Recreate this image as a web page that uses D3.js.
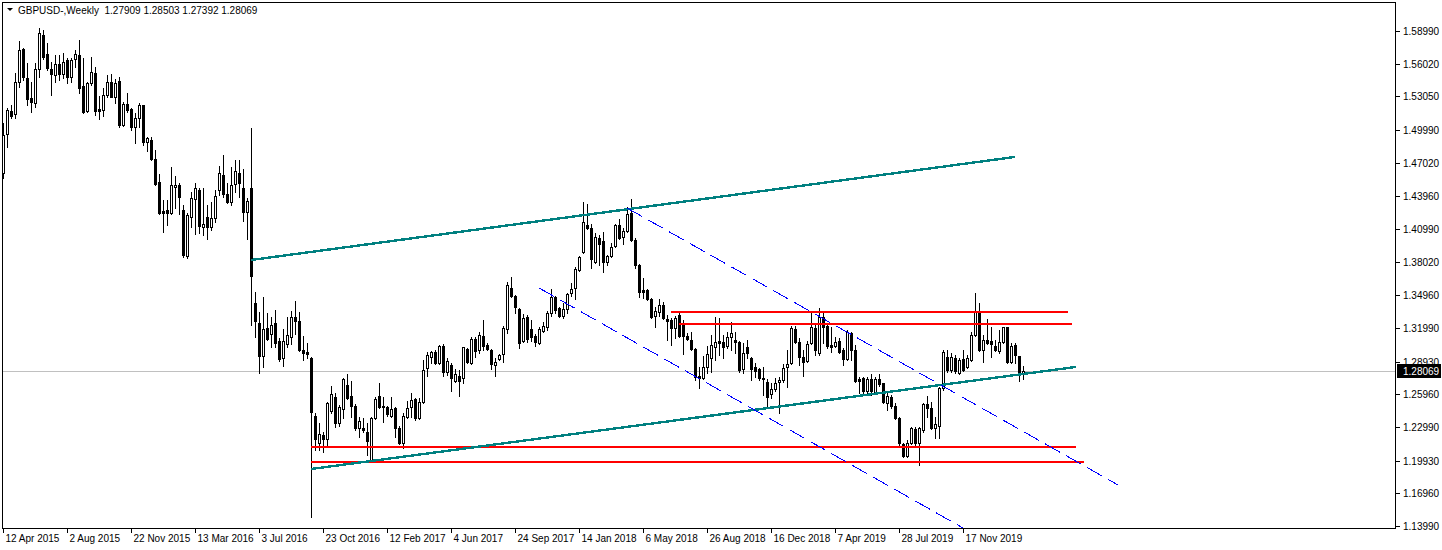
<!DOCTYPE html>
<html><head><meta charset="utf-8">
<script src="https://cdn.jsdelivr.net/npm/d3@7"></script>
<style>html,body{margin:0;padding:0;background:#fff;overflow:hidden}</style>
</head><body><svg id="c" width="1442" height="550"></svg>
<script>
// ---- data (weekly GBPUSD candles, first bar = week of 12 Apr 2015) ----
const startWeek = "2015-04-12";
const opens = [
1.4608,1.4963,1.5172,1.5145,1.5436,1.5736,1.5472,1.5290,1.5245,1.5554,
1.5863,1.5690,1.5554,1.5499,1.5599,1.5508,1.5636,1.5481,1.5645,1.5681,
1.5399,1.5172,1.5426,1.5517,1.5190,1.5181,1.5317,1.5436,1.5299,1.5445,
1.5045,1.5236,1.5190,1.5026,1.5108,1.5226,1.4890,1.4908,1.4736,1.4526,
1.4263,1.4272,1.4245,1.4481,1.4499,1.4272,1.3854,1.4208,1.4372,1.4454,
1.4117,1.4208,1.4117,1.4199,1.4454,1.4590,1.4417,1.4345,1.4508,1.4608,
1.4472,1.4254,1.4472,1.3426,1.3245,1.2945,1.3199,1.3145,1.3245,1.3081,
1.2926,1.3054,1.3117,1.3299,1.3263,1.2999,1.2981,1.2926,1.2399,1.2154,
1.2226,1.2190,1.2445,1.2572,1.2336,1.2463,1.2681,1.2581,1.2490,1.2290,
1.2290,1.2254,1.1990,1.2381,1.2581,1.2490,1.2481,1.2399,1.2472,1.2290,
1.2154,1.2390,1.2481,1.2554,1.2381,1.2526,1.2836,1.2936,1.2981,1.2881,
1.3036,1.2799,1.2863,1.2717,1.2763,1.2745,1.3008,1.2881,1.3099,1.2999,
1.3126,1.3045,1.2999,1.2863,1.2917,1.2963,1.3190,1.3563,1.3490,1.3372,
1.3081,1.3299,1.3190,1.3126,1.3063,1.3172,1.3208,1.3336,1.3481,1.3381,
1.3308,1.3372,1.3517,1.3563,1.3726,1.3890,1.4136,1.4108,1.3799,1.4017,
1.3990,1.3799,1.3854,1.3945,1.4136,1.4026,1.4081,1.4245,1.3999,1.3772,
1.3545,1.3545,1.3463,1.3308,1.3345,1.3408,1.3281,1.3272,1.3199,1.3317,
1.3226,1.3126,1.3090,1.3008,1.2763,1.2745,1.2845,1.2926,1.3026,1.3081,
1.3072,1.3036,1.3117,1.3090,1.3072,1.2826,1.3026,1.2926,1.2845,1.2826,
1.2745,1.2708,1.2599,1.2645,1.2708,1.2727,1.2845,1.2881,1.3190,1.3072,
1.2936,1.2899,1.3063,1.3199,1.2972,1.3299,1.3217,1.3045,1.3036,1.3081,
1.2999,1.2917,1.3154,1.2999,1.2736,1.2745,1.2626,1.2736,1.2608,1.2736,
1.2699,1.2517,1.2572,1.2490,1.2381,1.2145,1.2036,1.2154,1.2281,1.2154,
1.2272,1.2508,1.2472,1.2290,1.2308,1.2654,1.2936,1.2817,1.2926,1.2790,
1.2917,1.2845,1.2908,1.3136,1.3345,1.2999,1.3090,1.3081,1.3036,1.2990,
1.3072,1.3208,1.2890,1.3045,1.2945,1.27909];
const highs = [
1.5063,1.5199,1.5226,1.5517,1.5808,1.5745,1.5608,1.5436,1.5608,1.5926,
1.5908,1.5790,1.5617,1.5681,1.5681,1.5699,1.5654,1.5654,1.5726,1.5817,
1.5654,1.5436,1.5663,1.5572,1.5308,1.5381,1.5499,1.5508,1.5463,1.5481,
1.5254,1.5336,1.5199,1.5154,1.5245,1.5226,1.4936,1.4936,1.4817,1.4599,
1.4363,1.4363,1.4663,1.4581,1.4517,1.4317,1.4245,1.4436,1.4517,1.4472,
1.4472,1.4317,1.4345,1.4454,1.4672,1.4772,1.4517,1.4663,1.4726,1.4726,
1.4645,1.4381,1.5017,1.3526,1.3345,1.3481,1.3336,1.3299,1.3363,1.3108,
1.3190,1.3299,1.3354,1.3445,1.3345,1.3126,1.3063,1.2936,1.2426,1.2336,
1.2254,1.2526,1.2672,1.2608,1.2499,1.2745,1.2781,1.2717,1.2508,1.2390,
1.2381,1.2336,1.2390,1.2572,1.2699,1.2572,1.2490,1.2572,1.2481,1.2308,
1.2426,1.2536,1.2608,1.2563,1.2563,1.2908,1.2981,1.2990,1.2999,1.3045,
1.3054,1.2926,1.2881,1.2826,1.2817,1.3026,1.3017,1.3117,1.3117,1.3163,
1.3272,1.3063,1.3008,1.2926,1.2963,1.3217,1.3617,1.3663,1.3499,1.3381,
1.3326,1.3317,1.3272,1.3145,1.3208,1.3254,1.3354,1.3554,1.3490,1.3390,
1.3426,1.3517,1.3608,1.3754,1.3854,1.4345,1.4326,1.4145,1.4063,1.4045,
1.4072,1.3863,1.3972,1.4145,1.4190,1.4108,1.4299,1.4372,1.4017,1.3781,
1.3654,1.3554,1.3472,1.3390,1.3463,1.3436,1.3317,1.3290,1.3308,1.3354,
1.3272,1.3154,1.3163,1.3017,1.2845,1.2945,1.3036,1.3136,1.3299,1.3290,
1.3136,1.3163,1.3254,1.3163,1.3081,1.3063,1.3090,1.2936,1.2881,1.2836,
1.2845,1.2736,1.2699,1.2745,1.2754,1.2872,1.2999,1.3217,1.3217,1.3108,
1.2999,1.3081,1.3336,1.3245,1.3381,1.3336,1.3236,1.3208,1.3117,1.3108,
1.3017,1.3181,1.3163,1.3045,1.2754,1.2754,1.2754,1.2781,1.2754,1.2781,
1.2699,1.2608,1.2590,1.2517,1.2390,1.2154,1.2181,1.2299,1.2299,1.2299,
1.2517,1.2581,1.2526,1.2390,1.2663,1.2999,1.2999,1.2972,1.2954,1.2926,
1.2999,1.2954,1.3163,1.3517,1.3426,1.3136,1.3281,1.3208,1.3090,1.3181,
1.3208,1.3208,1.3063,1.3063,1.2945,1.28503];
const lows = [
1.4563,1.4845,1.5108,1.5108,1.5390,1.5454,1.5226,1.5163,1.5208,1.5481,
1.5645,1.5545,1.5317,1.5436,1.5454,1.5472,1.5426,1.5436,1.5572,1.5336,
1.5154,1.5163,1.5408,1.5136,1.5099,1.5126,1.5299,1.5299,1.5245,1.5026,
1.5036,1.5163,1.4999,1.4881,1.5026,1.4863,1.4808,1.4726,1.4499,1.4236,
1.4072,1.4136,1.4236,1.4290,1.4236,1.3845,1.3836,1.4117,1.4054,1.4063,
1.4045,1.4008,1.4090,1.4163,1.4408,1.4390,1.4336,1.4317,1.4436,1.4390,
1.4172,1.4008,1.3226,1.3117,1.2790,1.2845,1.3090,1.3026,1.3026,1.2899,
1.2854,1.3026,1.3054,1.3145,1.2990,1.2908,1.2926,1.1481,1.2090,1.2090,
1.2072,1.2136,1.2426,1.2299,1.2308,1.2381,1.2554,1.2390,1.2272,1.2208,
1.2254,1.2045,1.1981,1.2372,1.2472,1.2345,1.2399,1.2390,1.2208,1.2145,
1.2108,1.2381,1.2390,1.2363,1.2372,1.2517,1.2763,1.2881,1.2872,1.2872,
1.2763,1.2772,1.2626,1.2708,1.2581,1.2699,1.2881,1.2872,1.2936,1.2972,
1.2999,1.2999,1.2826,1.2763,1.2908,1.2890,1.3154,1.3481,1.3336,1.3017,
1.3072,1.3072,1.3081,1.3036,1.3054,1.3163,1.3181,1.3308,1.3336,1.3299,
1.3290,1.3336,1.3490,1.3463,1.3717,1.3881,1.4099,1.3745,1.3790,1.3772,
1.3708,1.3772,1.3845,1.3936,1.4008,1.3963,1.4072,1.3990,1.3745,1.3481,
1.3472,1.3454,1.3290,1.3208,1.3308,1.3281,1.3090,1.3045,1.3108,1.3117,
1.2963,1.3090,1.2999,1.2727,1.2654,1.2736,1.2790,1.2799,1.2908,1.2954,
1.2926,1.3017,1.2999,1.2972,1.2799,1.2790,1.2926,1.2727,1.2754,1.2727,
1.2590,1.2481,1.2563,1.2626,1.2426,1.2708,1.2663,1.2872,1.3063,1.2863,
1.2763,1.2890,1.3054,1.2954,1.2954,1.3063,1.3017,1.2981,1.3026,1.2972,
1.2863,1.2908,1.2908,1.2708,1.2608,1.2608,1.2608,1.2590,1.2599,1.2672,
1.2517,1.2454,1.2472,1.2372,1.2136,1.2026,1.2026,1.2145,1.2136,1.1954,
1.2254,1.2390,1.2281,1.2199,1.2199,1.2636,1.2799,1.2799,1.2790,1.2781,
1.2808,1.2836,1.2899,1.3126,1.2990,1.2890,1.3054,1.2936,1.2990,1.2972,
1.3063,1.2881,1.2881,1.2881,1.2717,1.27392];
const closes = [
1.4954,1.5181,1.5126,1.5436,1.5726,1.5481,1.5281,1.5254,1.5554,1.5881,
1.5663,1.5563,1.5508,1.5599,1.5508,1.5617,1.5481,1.5636,1.5690,1.5381,
1.5163,1.5426,1.5526,1.5172,1.5172,1.5317,1.5436,1.5299,1.5426,1.5045,
1.5236,1.5181,1.5026,1.5108,1.5226,1.4890,1.4926,1.4736,1.4508,1.4245,
1.4245,1.4245,1.4499,1.4499,1.4390,1.3863,1.4226,1.4381,1.4472,1.4126,
1.4145,1.4117,1.4199,1.4399,1.4608,1.4417,1.4345,1.4499,1.4626,1.4517,
1.4254,1.4354,1.3672,1.3263,1.2945,1.3190,1.3099,1.3226,1.3063,1.2917,
1.3081,1.3136,1.3299,1.3263,1.2999,1.2972,1.2963,1.2436,1.2190,1.2236,
1.2190,1.2517,1.2599,1.2336,1.2481,1.2736,1.2563,1.2490,1.2290,1.2354,
1.2272,1.2172,1.2381,1.2554,1.2481,1.2481,1.2417,1.2463,1.2290,1.2154,
1.2399,1.2472,1.2545,1.2381,1.2526,1.2817,1.2954,1.2981,1.2881,1.3036,
1.2799,1.2899,1.2745,1.2781,1.2717,1.3026,1.2890,1.3099,1.2990,1.3136,
1.3036,1.3008,1.2872,1.2890,1.2954,1.3199,1.3590,1.3490,1.3390,1.3063,
1.3290,1.3099,1.3117,1.3072,1.3190,1.3217,1.3336,1.3481,1.3363,1.3308,
1.3372,1.3508,1.3554,1.3736,1.3845,1.4163,1.4108,1.3826,1.4026,1.3963,
1.3799,1.3854,1.3936,1.4136,1.4017,1.4081,1.4236,1.3999,1.3772,1.3526,
1.3526,1.3463,1.3299,1.3354,1.3408,1.3290,1.3263,1.3199,1.3290,1.3126,
1.3126,1.3099,1.3008,1.2754,1.2745,1.2845,1.2963,1.3045,1.3072,1.3063,
1.3026,1.3117,1.3154,1.3072,1.2817,1.2972,1.2972,1.2826,1.2808,1.2745,
1.2736,1.2572,1.2645,1.2699,1.2727,1.2836,1.2872,1.3199,1.3072,1.2936,
1.2890,1.3054,1.3208,1.2999,1.3299,1.3208,1.3036,1.3026,1.3072,1.2981,
1.2917,1.3163,1.2999,1.2717,1.2717,1.2626,1.2736,1.2626,1.2736,1.2690,
1.2526,1.2581,1.2490,1.2381,1.2154,1.2036,1.2154,1.2290,1.2154,1.2290,
1.2508,1.2472,1.2290,1.2326,1.2654,1.2981,1.2817,1.2936,1.2808,1.2908,
1.2817,1.2926,1.3136,1.3345,1.2999,1.3090,1.3063,1.3054,1.2999,1.3072,
1.3208,1.2890,1.3036,1.2954,1.2799,1.28069];

const xTickBars = [0,16,32,48,64,80,96,112,128,144,160,176,192,208,224,240];
const xTickLabels = ["12 Apr 2015","2 Aug 2015","22 Nov 2015","13 Mar 2016","3 Jul 2016","23 Oct 2016","12 Feb 2017","4 Jun 2017","24 Sep 2017","14 Jan 2018","6 May 2018","26 Aug 2018","16 Dec 2018","7 Apr 2019","28 Jul 2019","17 Nov 2019"];
const yTickLabels = ["1.58990","1.56020","1.53050","1.49990","1.47020","1.43960","1.40990","1.38020","1.34960","1.31990","1.28930","1.25960","1.22990","1.19930","1.16960","1.13990"];
const lastPrice = 1.28069;
const titleText = "GBPUSD-,Weekly  1.27909 1.28503 1.27392 1.28069";

// drawn objects: [barIndex, price] endpoints
const tealLines = [[[62,1.3817],[253,1.4754]], [[77,1.1917],[268.25,1.2845]]];
const blueDashLines = [[[156,1.4290],[278.75,1.1772]], [[134,1.3563],[278.75,1.0583]]];
const redLevels = [[167,266.25,1.3345],[169,267.25,1.3236],[77,268.25,1.2117],[77,270.25,1.1981]];

// ---- rendering ----
function hasFont(name){const c=document.createElement('canvas').getContext('2d');c.font='20px monospace';const a=c.measureText('12 Apr 2015 WMil').width;c.font='20px "'+name+'", monospace';return c.measureText('12 Apr 2015 WMil').width!==a;}
const FONT = hasFont('Liberation Sans Narrow') ? {f:'"Liberation Sans Narrow"',s:11} : {f:'"Liberation Sans"',s:10};

const svg = d3.select('#c');
const L=3, R=1395, T=3, B=528;
const x = d3.scaleLinear().domain([0,348]).range([3,1395]);
const y = d3.scaleLinear().domain([1.5899,1.1399]).range([31,526]);

svg.append('defs').append('clipPath').attr('id','plot').append('rect')
  .attr('x',L).attr('y',T).attr('width',R-L).attr('height',B-T);

const g = svg.append('g').attr('clip-path','url(#plot)').attr('shape-rendering','crispEdges');

// current price line
g.append('line').attr('x1',L).attr('x2',R).attr('y1',Math.round(y(lastPrice))+0.5).attr('y2',Math.round(y(lastPrice))+0.5)
  .attr('stroke','#c0c0c0').attr('stroke-width',1);

const bars = d3.range(opens.length).map(i=>({i,o:opens[i],h:highs[i],l:lows[i],c:closes[i]}));
const cg = g.append('g');
bars.forEach(d=>{
  const cx = Math.round(x(d.i));
  const hi = Math.max(d.h,d.o,d.c), lo = Math.min(d.l,d.o,d.c);
  const yh = Math.round(y(hi)), yl = Math.round(y(lo));
  cg.append('rect').attr('x',cx).attr('y',yh).attr('width',1).attr('height',Math.max(1,yl-yh+1)).attr('fill','#000');
  const yt = Math.round(y(Math.max(d.o,d.c))), yb = Math.round(y(Math.min(d.o,d.c)));
  cg.append('rect').attr('x',cx-1).attr('y',yt).attr('width',3).attr('height',Math.max(1,yb-yt+1)).attr('fill','#000');
  if (d.c>d.o && yb-yt>=2) {
    cg.append('rect').attr('x',cx).attr('y',yt+1).attr('width',1).attr('height',yb-yt-1).attr('fill','#fff');
  }
});

// red horizontal levels
g.selectAll('line.red').data(redLevels).enter().append('line')
  .attr('x1',d=>x(d[0])).attr('x2',d=>x(d[1]))
  .attr('y1',d=>Math.round(y(d[2]))).attr('y2',d=>Math.round(y(d[2])))
  .attr('stroke','#ff0000').attr('stroke-width',2);

// teal trend lines
g.selectAll('line.teal').data(tealLines).enter().append('line')
  .attr('x1',d=>x(d[0][0])).attr('y1',d=>y(d[0][1]))
  .attr('x2',d=>x(d[1][0])).attr('y2',d=>y(d[1][1]))
  .attr('stroke','#008080').attr('stroke-width',2.4);

// blue dashed channel
g.selectAll('line.blue').data(blueDashLines).enter().append('line')
  .attr('x1',d=>x(d[0][0])).attr('y1',d=>y(d[0][1]))
  .attr('x2',d=>x(d[1][0])).attr('y2',d=>y(d[1][1]))
  .attr('stroke','#0000ff').attr('stroke-width',1).attr('stroke-dasharray','17,7');

// frame
const fr = svg.append('g').attr('shape-rendering','crispEdges');
fr.append('rect').attr('x',2.5).attr('y',2.5).attr('width',R-2).attr('height',B-2)
  .attr('fill','none').attr('stroke','#000').attr('stroke-width',1);

// y axis ticks & labels
const ya = svg.append('g');
yTickLabels.forEach(t=>{
  const yy = Math.round(y(+t))+0.5;
  ya.append('line').attr('x1',R+0.5).attr('x2',R+4.5).attr('y1',yy).attr('y2',yy).attr('stroke','#000').attr('shape-rendering','crispEdges');
  ya.append('text').attr('x',1403).attr('y',yy+3.5).text(t)
    .attr('font-family',FONT.f).attr('font-size',FONT.s).attr('fill','#000');
});
// current price box
const yp = Math.round(y(lastPrice));
ya.append('rect').attr('x',1397).attr('y',yp-7).attr('width',44).attr('height',14).attr('fill','#000');
ya.append('text').attr('x',1403).attr('y',yp+4).text(lastPrice.toFixed(5))
  .attr('font-family',FONT.f).attr('font-size',FONT.s).attr('fill','#fff');

// x axis ticks & labels
const xa = svg.append('g');
xTickBars.forEach((b,k)=>{
  const xx = Math.round(x(b))+0.5;
  xa.append('line').attr('x1',xx).attr('x2',xx).attr('y1',B+0.5).attr('y2',B+5).attr('stroke','#000').attr('shape-rendering','crispEdges');
  xa.append('text').attr('x',xx+2).attr('y',542).text(xTickLabels[k])
    .attr('font-family',FONT.f).attr('font-size',FONT.s).attr('fill','#000');
});

// title
svg.append('path').attr('d','M7,8 L13,8 L10,11 Z').attr('fill','#000');
svg.append('text').attr('x',18).attr('y',14).text(titleText).attr('xml:space','preserve').style('white-space','pre')
  .attr('font-family',FONT.f).attr('font-size',FONT.s).attr('fill','#000');
</script></body></html>
